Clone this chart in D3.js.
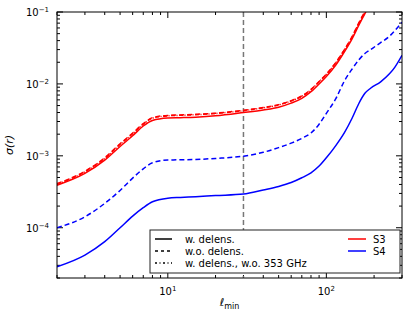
<!DOCTYPE html>
<html>
<head>
<meta charset="utf-8">
<script src="https://cdn.jsdelivr.net/npm/d3@7"></script>
<style>
  body { margin: 0; background: #fff; }
  text { font-family: "DejaVu Sans", sans-serif; }
</style>
</head>
<body>
<div id="chart"></div>
<script>
// multipole grid (ell_min)
var ell = [2, 3, 4, 5, 6, 7, 8, 10, 12, 15, 20, 30, 40, 50, 60, 70, 80, 90, 100, 115, 130, 145, 160, 175, 190, 220, 250, 270, 300];

// S3, with delensing
var s3Delens = [3.9e-4, 5.7e-4, 8.7e-4, 1.35e-3, 1.9e-3, 2.6e-3, 3.1e-3, 3.35e-3, 3.39e-3, 3.45e-3, 3.6e-3, 4.0e-3, 4.35e-3, 4.75e-3, 5.4e-3, 6.3e-3, 7.8e-3, 1.0e-2, 1.27e-2, 1.85e-2, 2.8e-2, 4.2e-2, 6.5e-2, 9.5e-2, 0.135, 0.25, 0.4, 0.5, 0.6];
// S3, without delensing
var s3NoDelens = [4.1e-4, 6.1e-4, 9.4e-4, 1.47e-3, 2.07e-3, 2.8e-3, 3.4e-3, 3.65e-3, 3.7e-3, 3.78e-3, 3.92e-3, 4.3e-3, 4.7e-3, 5.15e-3, 5.85e-3, 6.8e-3, 8.4e-3, 1.08e-2, 1.37e-2, 2.0e-2, 3.0e-2, 4.5e-2, 7.0e-2, 0.102, 0.145, 0.27, 0.42, 0.52, 0.62];
// S3, with delensing, without 353 GHz
var s3No353 = [4.0e-4, 6.0e-4, 9.2e-4, 1.44e-3, 2.03e-3, 2.75e-3, 3.35e-3, 3.6e-3, 3.66e-3, 3.73e-3, 3.88e-3, 4.25e-3, 4.65e-3, 5.1e-3, 5.8e-3, 6.7e-3, 8.3e-3, 1.07e-2, 1.36e-2, 1.98e-2, 2.98e-2, 4.45e-2, 6.9e-2, 0.1, 0.143, 0.27, 0.42, 0.52, 0.62];
// S4, with delensing
var s4Delens = [2.87e-5, 4.17e-5, 6.4e-5, 1.0e-4, 1.45e-4, 1.9e-4, 2.3e-4, 2.58e-4, 2.64e-4, 2.7e-4, 2.8e-4, 2.94e-4, 3.35e-4, 3.75e-4, 4.25e-4, 4.95e-4, 5.8e-4, 7.2e-4, 9.4e-4, 1.4e-3, 2.1e-3, 3.3e-3, 5.3e-3, 7.4e-3, 8.7e-3, 1.07e-2, 1.38e-2, 1.7e-2, 2.5e-2];
// S4, without delensing
var s4NoDelens = [1.0e-4, 1.42e-4, 2.18e-4, 3.3e-4, 4.9e-4, 6.6e-4, 8.0e-4, 8.75e-4, 8.8e-4, 8.9e-4, 9.2e-4, 9.9e-4, 1.12e-3, 1.3e-3, 1.5e-3, 1.75e-3, 2.08e-3, 2.75e-3, 3.9e-3, 6.3e-3, 1.1e-2, 1.6e-2, 2.15e-2, 2.65e-2, 3.0e-2, 3.75e-2, 4.6e-2, 5.5e-2, 7.2e-2];

var ellCut = 30;
var xTickVals = [10, 100];
var yTickVals = [1e-4, 1e-3, 1e-2, 1e-1];

var width = 407, height = 321;
var margin = {top: 12, right: 5, bottom: 43, left: 57};
var plotW = width - margin.left - margin.right,
    plotH = height - margin.top - margin.bottom;

var svg = d3.select("#chart").append("svg")
    .attr("width", width)
    .attr("height", height);

var x = d3.scaleLog().domain([2, 300]).range([0, plotW]);
var y = d3.scaleLog().domain([2e-5, 0.1]).range([plotH, 0]);

var g = svg.append("g")
    .attr("transform", "translate(" + margin.left + "," + margin.top + ")");

g.append("clipPath").attr("id", "clip")
  .append("rect").attr("width", plotW).attr("height", plotH);

// minor tick values
var xMinor = [], yMinor = [];
[1, 10, 100].forEach(function (b) {
    for (var k = 2; k <= 9; k++) {
        var v = b * k;
        if (v >= 2 && v <= 300 && v != 10 && v != 100) xMinor.push(v);
    }
});
[1e-5, 1e-4, 1e-3, 1e-2].forEach(function (b) {
    for (var k = 2; k <= 9; k++) {
        var v = b * k;
        if (v >= 2e-5 && v <= 0.1) yMinor.push(v);
    }
});

var ticks = g.append("g").attr("stroke", "#000").attr("stroke-width", 1);
function xTick(v, len) {
    ticks.append("line").attr("x1", x(v)).attr("x2", x(v)).attr("y1", plotH).attr("y2", plotH - len);
    ticks.append("line").attr("x1", x(v)).attr("x2", x(v)).attr("y1", 0).attr("y2", len);
}
function yTick(v, len) {
    ticks.append("line").attr("y1", y(v)).attr("y2", y(v)).attr("x1", 0).attr("x2", len);
    ticks.append("line").attr("y1", y(v)).attr("y2", y(v)).attr("x1", plotW).attr("x2", plotW - len);
}
xMinor.forEach(function (v) { xTick(v, 3); });
xTickVals.forEach(function (v) { xTick(v, 6); });
yMinor.forEach(function (v) { yTick(v, 3); });
yTickVals.forEach(function (v) { yTick(v, 6); });

// vertical cut line
g.append("line")
    .attr("x1", x(ellCut)).attr("x2", x(ellCut))
    .attr("y1", 0).attr("y2", plotH)
    .attr("stroke", "#777").attr("stroke-width", 1.5)
    .attr("stroke-dasharray", "5,3");

var line = d3.line()
    .x(function (d) { return x(d[0]); })
    .y(function (d) { return y(d[1]); })
    .curve(d3.curveMonotoneX);

var series = [
    {vals: s4NoDelens, color: "#0000ff", dash: "5,3"},
    {vals: s4Delens, color: "#0000ff", dash: null},
    {vals: s3No353, color: "#ff0000", dash: "4,1.5,1,1.5"},
    {vals: s3NoDelens, color: "#ff0000", dash: "5,3"},
    {vals: s3Delens, color: "#ff0000", dash: null}
];

var curves = g.append("g").attr("clip-path", "url(#clip)");
series.forEach(function (s) {
    curves.append("path")
        .datum(ell.map(function (l, i) { return [l, s.vals[i]]; }))
        .attr("d", line)
        .attr("fill", "none")
        .attr("stroke", s.color)
        .attr("stroke-width", 1.5)
        .attr("stroke-dasharray", s.dash);
});

// frame
g.append("rect")
    .attr("width", plotW).attr("height", plotH)
    .attr("fill", "none").attr("stroke", "#000").attr("stroke-width", 1);

// tick labels
xTickVals.forEach(function (v) {
    var t = g.append("text")
        .attr("x", x(v)).attr("y", plotH + 17)
        .attr("text-anchor", "middle")
        .attr("font-size", 10);
    t.append("tspan").text("10");
    t.append("tspan").attr("dy", -4).attr("font-size", 7).text(Math.round(Math.log10(v)));
});
yTickVals.forEach(function (v) {
    var t = g.append("text")
        .attr("x", -8).attr("y", y(v) + 4)
        .attr("text-anchor", "end")
        .attr("font-size", 10);
    t.append("tspan").text("10");
    t.append("tspan").attr("dy", -4).attr("font-size", 7).text("\u2212" + Math.round(-Math.log10(v)));
});

// axis labels
var xl = svg.append("text")
    .attr("x", margin.left + plotW / 2).attr("y", 306)
    .attr("text-anchor", "middle")
    .attr("font-family", "DejaVu Serif")
    .attr("font-size", 11);
xl.append("tspan").attr("font-style", "italic").text("\u2113");
xl.append("tspan").attr("dy", 3).attr("font-size", 8).text("min");

svg.append("text")
    .attr("transform", "translate(13," + (margin.top + plotH / 2) + ") rotate(-90)")
    .attr("text-anchor", "middle")
    .attr("font-family", "DejaVu Serif")
    .attr("font-size", 11)
    .attr("font-style", "italic")
    .text("\u03c3(r)");

// legend
var leg = svg.append("g").attr("transform", "translate(150,230)");
leg.append("rect")
    .attr("width", 250).attr("height", 43)
    .attr("fill", "#fff").attr("stroke", "#222").attr("stroke-width", 1);

var styleItems = [
    {label: "w. delens.", dash: null},
    {label: "w.o. delens.", dash: "3,3"},
    {label: "w. delens., w.o. 353 GHz", dash: "2,2.5,1,2.5"}
];
styleItems.forEach(function (d, i) {
    var yy = 9 + i * 12;
    leg.append("line")
        .attr("x1", 5).attr("x2", 22).attr("y1", yy).attr("y2", yy)
        .attr("stroke", "#000").attr("stroke-width", 1.5)
        .attr("stroke-dasharray", d.dash);
    leg.append("text")
        .attr("x", 35).attr("y", yy + 4)
        .attr("font-size", 10)
        .text(d.label);
});

var colorItems = [
    {label: "S3", color: "#ff0000"},
    {label: "S4", color: "#0000ff"}
];
colorItems.forEach(function (d, i) {
    var yy = 9 + i * 12;
    leg.append("line")
        .attr("x1", 198).attr("x2", 216).attr("y1", yy).attr("y2", yy)
        .attr("stroke", d.color).attr("stroke-width", 1.5);
    leg.append("text")
        .attr("x", 223).attr("y", yy + 4)
        .attr("font-size", 10)
        .text(d.label);
});
</script>
</body>
</html>
